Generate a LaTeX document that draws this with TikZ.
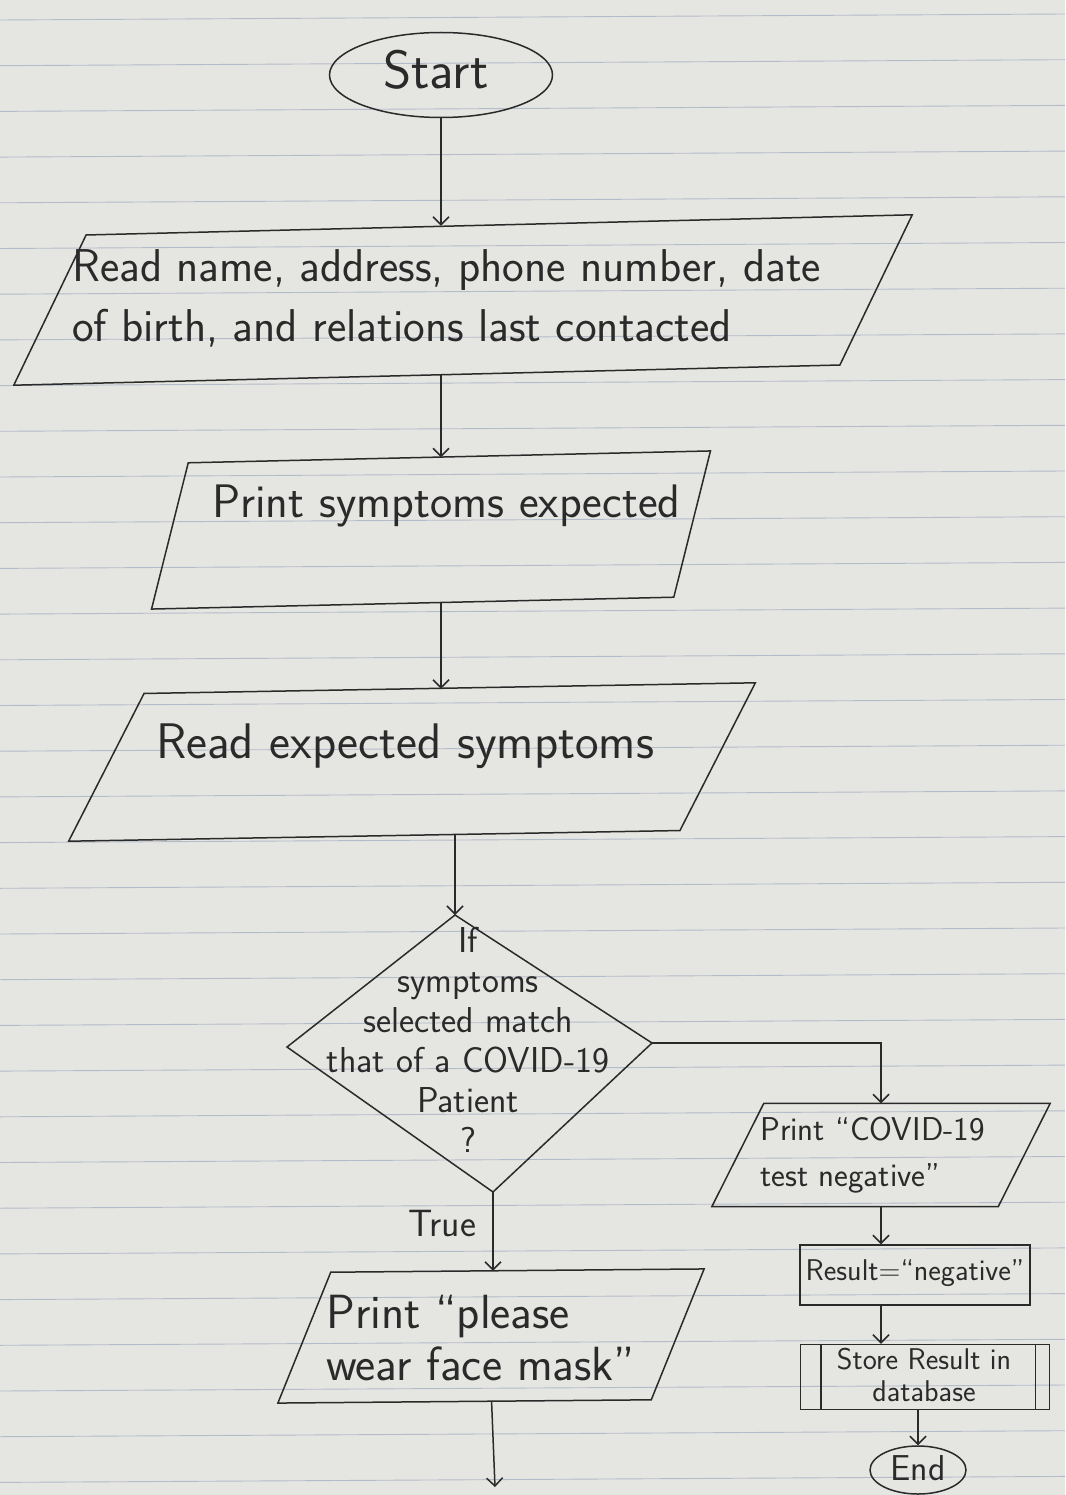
\documentclass[tikz,border=0pt]{standalone}
\usepackage{fontspec}
\usetikzlibrary{shapes.geometric,arrows.meta,calc}
\definecolor{paper}{RGB}{229,229,226}
\definecolor{rulecol}{RGB}{180,188,202}
\definecolor{ink}{RGB}{42,42,42}
\tikzset{
  inkline/.style={draw=ink, line width=1.5pt},
  arr/.style={inkline, -{Straight Barb[length=8pt,width=16pt]}},
  pbox/.style={draw=none, rectangle, inner sep=0pt},
  term/.style={inkline, ellipse, inner sep=0pt},
  box/.style={inkline, rectangle, inner sep=0pt},
  txt/.style={text=ink, inner sep=0pt, font=\sffamily},
  paperline/.style={draw=rulecol, line width=0.9pt}
}
% parallelogram outline on an invisible box node: #1 name, #2 slant
\newcommand\drawpara[2]{%
  \draw[inkline] (#1.south west) -- ($(#1.north west)!#2pt!(#1.north east)$)
    -- (#1.north east) -- ($(#1.south east)!#2pt!(#1.south west)$) -- cycle;}
\begin{document}
\begin{tikzpicture}[x=1pt,y=-1pt]
\fill[paper] (0,0) rectangle (1065,1495);
\useasboundingbox (0,0) rectangle (1065,1495);
\foreach \k in {0,...,32} \draw[paperline] (0,{20+45.7*\k}) -- (1065,{14+45.7*\k});

% start
\node[term, minimum width=223pt, minimum height=85pt] (start) at (441,75) {};
\node[txt, font=\sffamily\fontsize{54}{58}\selectfont] (tstart) at (436,70) {Start};

% parallelogram 1
\node[pbox, minimum width=902pt, minimum height=148pt, rotate=1.4] (p1) at (463,300) {};
\drawpara{p1}{76}
\node[txt, align=left, anchor=west, font=\sffamily\fontsize{46}{60}\selectfont] (t1) at (72,298) {Read name, address, phone number, date\\of birth, and relations last contacted};

% parallelogram 2
\node[pbox, minimum width=562pt, minimum height=145pt, rotate=1.3] (p2) at (431,530) {};
\drawpara{p2}{40}
\node[txt, anchor=west, font=\sffamily\fontsize{47}{50}\selectfont] (t2) at (212,506) {Print symptoms expected};

% parallelogram 3
\node[pbox, minimum width=689pt, minimum height=146pt, rotate=1] (p3) at (412,762) {};
\drawpara{p3}{78}
\node[txt, anchor=west, font=\sffamily\fontsize{50}{54}\selectfont] (t3) at (156,746) {Read expected symptoms};

% decision
\coordinate (dT) at (455,915);
\coordinate (dR) at (652,1043);
\coordinate (dB) at (493,1192);
\coordinate (dL) at (287,1047);
\draw[inkline] (dT) -- (dR) -- (dB) -- (dL) -- cycle;
\node[txt, align=center, font=\sffamily\fontsize{36}{40}\selectfont] (tdia) at (468,1040) {If\\symptoms\\selected match\\that of a COVID-19\\Patient\\?};

% false branch
\node[pbox, minimum width=338pt, minimum height=103pt] (p4) at (881,1155) {};
\drawpara{p4}{52}
\node[txt, align=left, anchor=west, font=\sffamily\fontsize{33}{46}\selectfont] (t4) at (760,1155) {Print ``COVID-19\\test negative''};

\node[box, minimum width=230pt, minimum height=60pt] (res) at (915,1275) {};
\node[txt, font=\sffamily\fontsize{30}{34}\selectfont] (tres) at (915,1273) {Result=``negative''};

\node[box, minimum width=249pt, minimum height=65pt] (store) at (925,1377) {};
\draw[inkline] ($(store.north west)+(21,0)$) -- ($(store.south west)+(21,0)$);
\draw[inkline] ($(store.north east)+(-15,0)$) -- ($(store.south east)+(-15,0)$);
\node[txt, align=center, font=\sffamily\fontsize{30}{32}\selectfont] (tstore) at (924,1375) {Store Result in\\database};

\node[term, minimum width=96pt, minimum height=48pt] (end) at (918,1470) {};
\node[txt, font=\sffamily\fontsize{36}{38}\selectfont] (tend) at (918,1468) {End};

% true branch
\node[pbox, minimum width=427pt, minimum height=130pt, rotate=0.5] (p5) at (491,1336) {};
\drawpara{p5}{54}
\node[txt, align=left, anchor=west, font=\sffamily\fontsize{48}{52}\selectfont] (t5) at (326,1338) {Print ``please\\wear face mask''};

\node[txt, font=\sffamily\fontsize{38}{40}\selectfont] (ttrue) at (442,1224) {True};
\coordinate (out) at (495,1487);

% connectors
\draw[arr] (start.south) -- (start.south |- p1.north);
\draw[arr] (start.south |- p1.south) -- (start.south |- p2.north);
\draw[arr] (start.south |- p2.south) -- (start.south |- p3.north);
\draw[arr] (dT |- p3.south) -- (dT);
\draw[arr] (dR) -| (p4.north);
\draw[arr] (dB) -- (dB |- p5.north);
\draw[arr] (p4.south) -- (p4.south |- res.north);
\draw[arr] (p4.south |- res.south) -- (p4.south |- store.north);
\draw[arr] (end.north |- store.south) -- (end.north);
\draw[arr] (p5.south) -- (out);
\end{tikzpicture}
\end{document}
